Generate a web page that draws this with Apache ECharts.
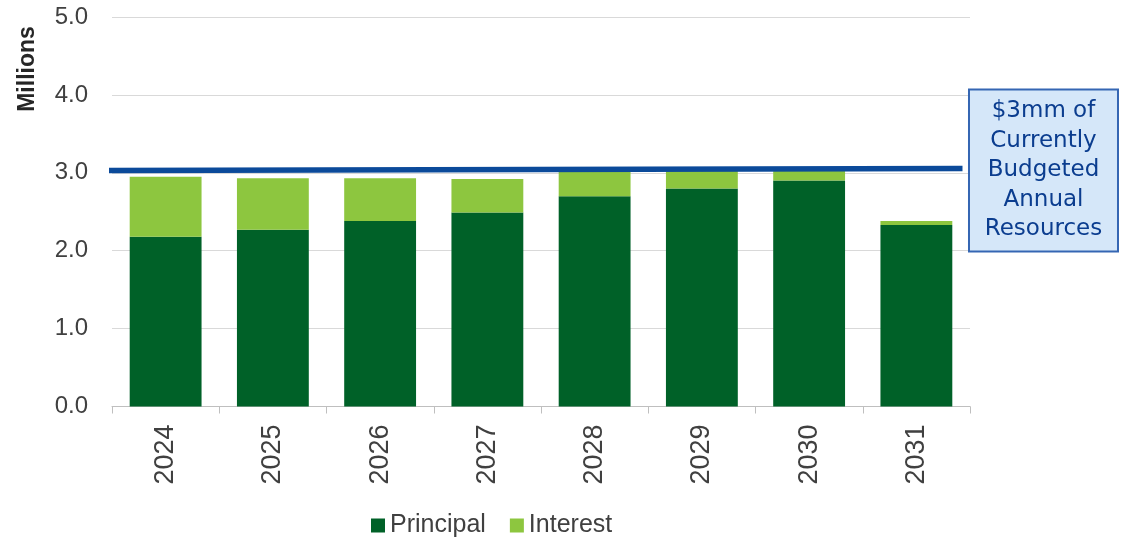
<!DOCTYPE html>
<html>
<head>
<meta charset="utf-8">
<style>
  html, body { margin: 0; padding: 0; background: #fff; }
  #chart { width: 1122px; height: 538px; }
</style>
<script src="https://cdn.jsdelivr.net/npm/echarts@6/dist/echarts.min.js"></script>
</head>
<body>
<div id="chart"></div>
<script>
  // ---- data (millions) -------------------------------------------------------
  const years     = ['2024', '2025', '2026', '2027', '2028', '2029', '2030', '2031'];
  const principal = [2.18, 2.27, 2.38, 2.49, 2.70, 2.80, 2.90, 2.33];
  const interest  = [0.77, 0.66, 0.55, 0.43, 0.33, 0.23, 0.14, 0.05];
  const yTicks    = [0, 1, 2, 3, 4, 5];

  // budget line, x in category units (0..8), slightly past both ends
  const budgetX = [-0.12, 7.93];
  const budgetY = [3.03, 3.055];
  const budgetText = ['$3mm of', 'Currently', 'Budgeted', 'Annual', 'Resources'];

  const AX = 'Liberation Sans, Arial, sans-serif';
  const chart = echarts.init(document.getElementById('chart'));

  const lastIdx = budgetX.length - 1;
  const budgetData = budgetX.map((x, i) => ({
    value: [x, budgetY[i]],
    label: i === lastIdx ? {
      show: true,
      position: 'right',
      distance: 5,
      offset: [76, 2],
      formatter: budgetText.join('\n'),
      fontFamily: 'DejaVu Sans',
      fontSize: 23,
      lineHeight: 29.5,
      color: '#0b3d8f',
      align: 'center',
      verticalAlign: 'middle',
      width: 147,
      height: 155,
      padding: [0, 0, 5, 0],
      backgroundColor: '#d5e7f9',
      borderColor: '#3566b3',
      borderWidth: 2
    } : { show: false }
  }));

  const opt = {
    animation: false,
    backgroundColor: '#fff',
    grid: { left: 112, right: 152, top: 17, bottom: 131.5 },
    legend: {
      data: ['Principal', 'Interest'],
      left: 371, top: 513, padding: 0,
      icon: 'rect', itemWidth: 14, itemHeight: 14, itemGap: 24,
      textStyle: { fontFamily: AX, fontSize: 25, color: '#404040' }
    },
    xAxis: [
      {
        type: 'category', data: years,
        axisLine: { lineStyle: { color: '#bfbfbf', width: 1 } },
        axisTick: { show: true, length: 7, lineStyle: { color: '#bfbfbf' } },
        axisLabel: { rotate: 90, margin: 18, fontFamily: AX, fontSize: 27, color: '#404040' },
        splitLine: { show: false }
      },
      { type: 'value', min: 0, max: 8, show: false }
    ],
    yAxis: {
      type: 'value', min: yTicks[0], max: yTicks[yTicks.length - 1], interval: 1,
      axisLine: { show: false }, axisTick: { show: false },
      axisLabel: { margin: 24, fontFamily: AX, fontSize: 24, color: '#404040',
                   formatter: v => v.toFixed(1) },
      splitLine: { lineStyle: { color: '#d9d9d9', width: 1 } }
    },
    series: [
      { name: 'Principal', type: 'bar', stack: 'debt', data: principal,
        barCategoryGap: '33%', itemStyle: { color: '#006128' } },
      { name: 'Interest', type: 'bar', stack: 'debt', data: interest,
        itemStyle: { color: '#8dc63f' } },
      { name: 'Budget', type: 'line', xAxisIndex: 1, yAxisIndex: 0,
        data: budgetData, clip: false, showSymbol: true, symbol: 'circle', symbolSize: 0, z: 5,
        lineStyle: { color: '#0b4a9a', width: 5.5 } }
    ],
    graphic: [{
      type: 'text', x: 28, y: 69, rotation: Math.PI / 2,
      style: { text: 'Millions', fontFamily: AX, fontSize: 23, fontWeight: 'bold',
               fill: '#262626', align: 'center', verticalAlign: 'middle' }
    }]
  };
  chart.setOption(opt);
</script>
</body>
</html>
